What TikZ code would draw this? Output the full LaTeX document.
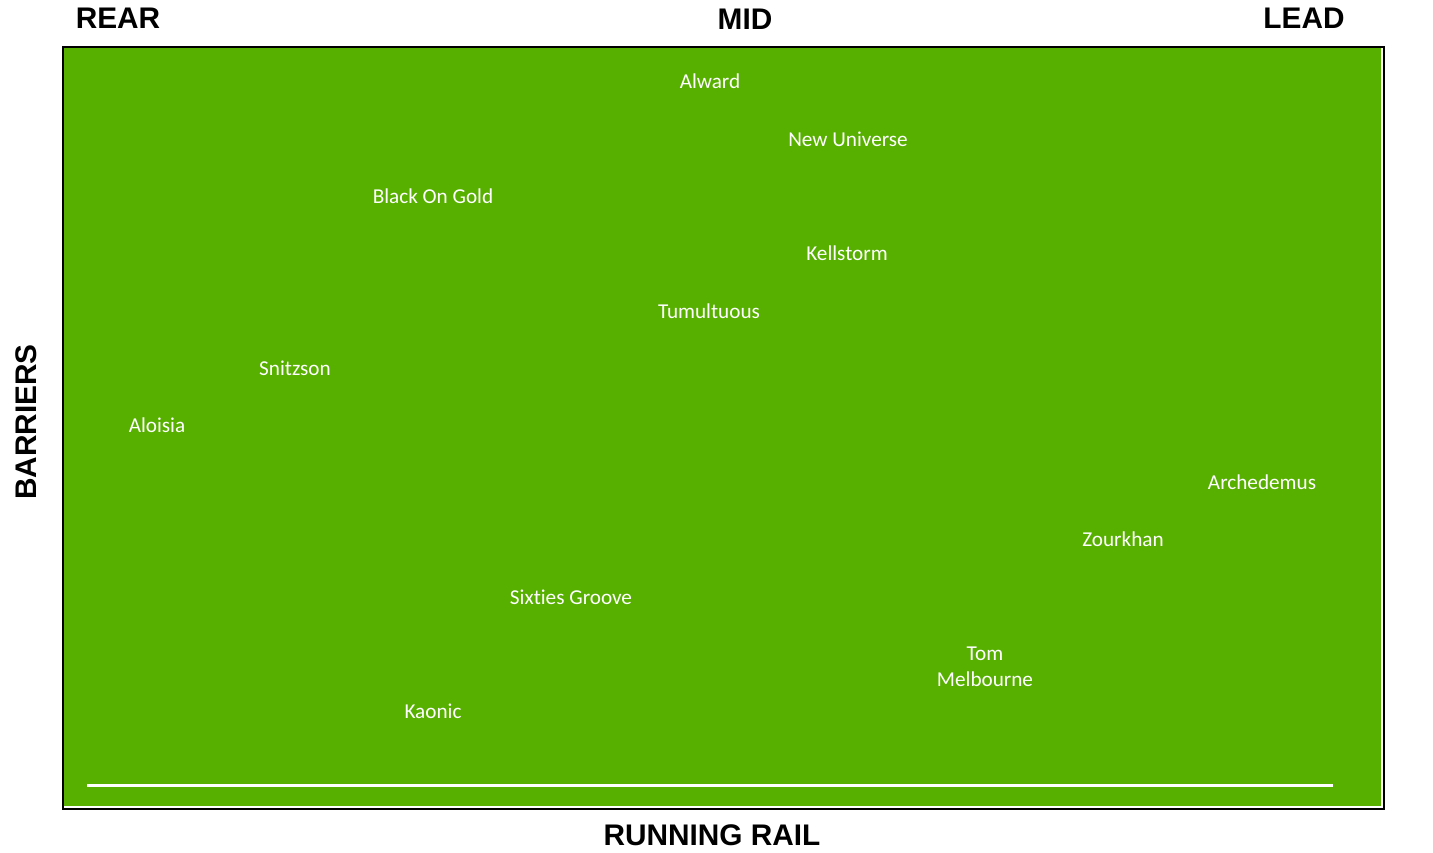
\documentclass[tikz,border=0pt]{standalone}
\usepackage{fontspec}
\setmainfont{Liberation Sans}
\newfontfamily\horsefont[RawFeature=-liga]{Carlito}
\definecolor{turf}{RGB}{87,176,0}

\begin{document}
\begin{tikzpicture}[x=1pt,y=-1pt,
    horse/.style={text=white, font=\horsefont\fontsize{21.2}{26}\selectfont, align=center, inner sep=0pt},
    zone/.style={text=black, font=\bfseries\fontsize{29.8}{31}\selectfont, inner sep=0pt}]

    % 1. Moldura da pista (tamanho da imagem de referência)
    \useasboundingbox (0,0) rectangle (1433,853);

    % Campo verde com a borda branca interna (direita e baixo)
    \fill[turf] (63,47) rectangle (1384,809);
    \draw[white, line width=1.5pt] (1382,47) -- (1382,807) -- (63,807);
    \draw[black, line width=2.6pt] (63,47) rectangle (1384,809);

    % Linha branca do rail
    \draw[white, line width=2.6pt] (87,785.5) -- (1333,785.5);

    % 2. Rótulos das zonas
    \node[zone] (rear) at (118,18) {REAR};
    \node[zone] (mid) at (745,19) {MID};
    \node[zone] (lead) at (1304,18) {LEAD};
    \node[zone] (rail) at (712,835) {RUNNING RAIL};
    \node[zone, rotate=90] (barriers) at (26,422) {BARRIERS};

    % 3. Cavalos
    \node[horse] (alward) at (710,81) {Alward};
    \node[horse] (newuniverse) at (848,139) {New Universe};
    \node[horse] (blackongold) at (433,196) {Black On Gold};
    \node[horse] (kellstorm) at (847,253) {Kellstorm};
    \node[horse] (tumultuous) at (709,311) {Tumultuous};
    \node[horse] (snitzson) at (295,368) {Snitzson};
    \node[horse] (aloisia) at (157,425) {Aloisia};
    \node[horse] (archedemus) at (1262,482) {Archedemus};
    \node[horse] (zourkhan) at (1123,539) {Zourkhan};
    \node[horse] (sixties) at (571,597) {Sixties Groove};
    \node[horse] (tommelbourne) at (985,667) {Tom\\Melbourne};
    \node[horse] (kaonic) at (433,711) {Kaonic};

\end{tikzpicture}
\end{document}
